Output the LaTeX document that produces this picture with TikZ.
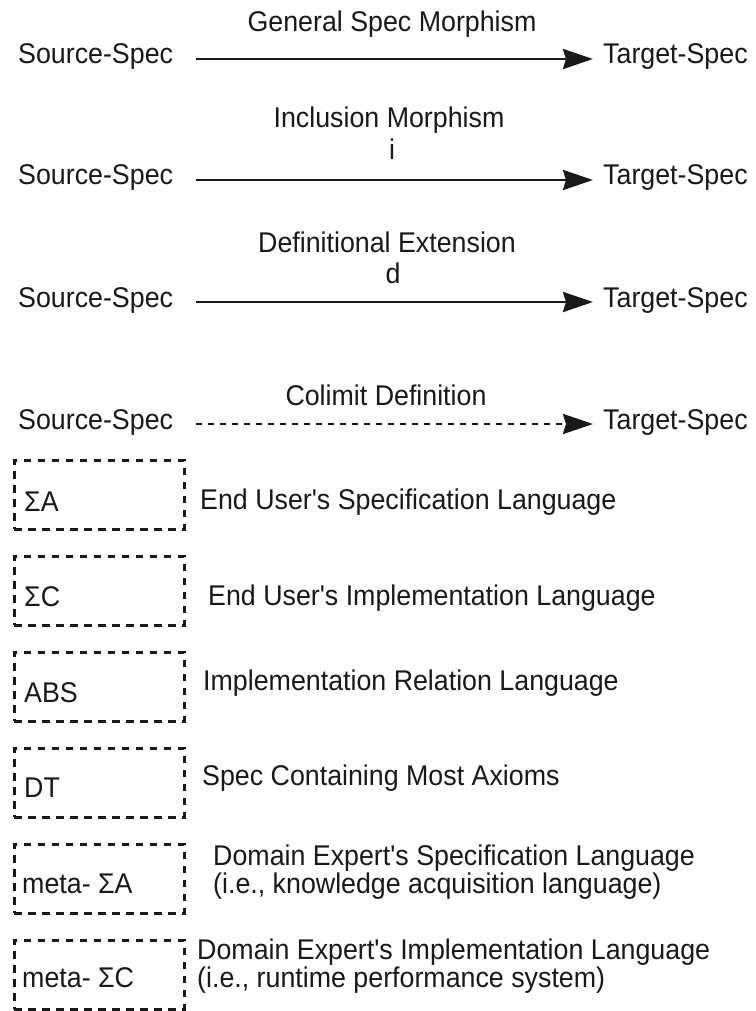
\documentclass[tikz,border=0pt]{standalone}
\usepackage{fontspec}
\setmainfont{Liberation Sans}[FakeStretch=0.94, Ligatures=TeXOff]
\usetikzlibrary{arrows.meta}

\begin{document}
\begin{tikzpicture}[x=1pt,y=-1pt,
  txt/.style={font=\fontsize{28.5}{30}\selectfont, text=black!90, inner sep=0pt},
  spec/.style={txt, text height=10pt, text depth=0pt, anchor=base west},
  ttl/.style={txt, anchor=base},
  morph/.style={line width=2.8pt, draw=black!90,
    -{Stealth[length=30pt,width=20pt,inset=3pt]}, shorten <=23pt, shorten >=10pt},
  colim/.style={morph, dash pattern=on 6pt off 6pt},
  langbox/.style={draw=black!90, line width=2.6pt, dash pattern=on 7.5pt off 6.5pt,
    minimum width=170pt, minimum height=69pt, anchor=north west, inner sep=0pt},
  boxtxt/.style={txt, anchor=base west},
  desc/.style={txt, anchor=base west, align=left}
]
\useasboundingbox (0,0) rectangle (755,1011);

% general spec morphism
\node[ttl] (g0) at (392,32) {General Spec Morphism};
\node[spec] (s1) at (18,64) {Source-Spec};
\node[spec] (t1) at (603,64) {Target-Spec};
\draw[morph] (s1.east) -- (t1.west);

% inclusion morphism
\node[ttl] (g1) at (389,128) {Inclusion Morphism};
\node[ttl] (i1) at (392,160) {i};
\node[spec] (s2) at (18,185) {Source-Spec};
\node[spec] (t2) at (603,185) {Target-Spec};
\draw[morph] (s2.east) -- (t2.west);

% definitional extension
\node[ttl] (g2) at (387,252) {Definitional Extension};
\node[ttl] (d1) at (393,283) {d};
\node[spec] (s3) at (18,307) {Source-Spec};
\node[spec] (t3) at (603,307) {Target-Spec};
\draw[morph] (s3.east) -- (t3.west);

% colimit definition
\node[ttl] (g3) at (386,405) {Colimit Definition};
\node[spec] (s4) at (18,429) {Source-Spec};
\node[spec] (t4) at (603,429) {Target-Spec};
\draw[colim] (s4.east) -- (t4.west);

% language legend
\node[langbox] (b1) at (13,459) {};
\node[langbox] (b2) at (13,555) {};
\node[langbox] (b3) at (13,651) {};
\node[langbox] (b4) at (13,747) {};
\node[langbox] (b5) at (13,843) {};
\node[langbox] (b6) at (13,939) {};

\node[boxtxt] (n1) at (24,511) {ΣA};
\node[boxtxt] (n2) at (24,606) {ΣC};
\node[boxtxt] (n3) at (24,702) {ABS};
\node[boxtxt] (n4) at (24,797) {DT};
\node[boxtxt] (n5) at (22,893) {meta- ΣA};
\node[boxtxt] (n6) at (22,987) {meta- ΣC};

\node[desc] (l1) at (200,509) {End User's Specification Language};
\node[desc] (l2) at (208,605) {End User's Implementation Language};
\node[desc] (l3) at (203,690) {Implementation Relation Language};
\node[desc] (l4) at (202,785) {Spec Containing Most Axioms};
\node[desc] (l5a) at (213,865) {Domain Expert's Specification Language};
\node[desc] (l5b) at (213,893) {(i.e., knowledge acquisition language)};
\node[desc] (l6a) at (197,959) {Domain Expert's Implementation Language};
\node[desc] (l6b) at (197,987) {(i.e., runtime performance system)};
\end{tikzpicture}
\end{document}
